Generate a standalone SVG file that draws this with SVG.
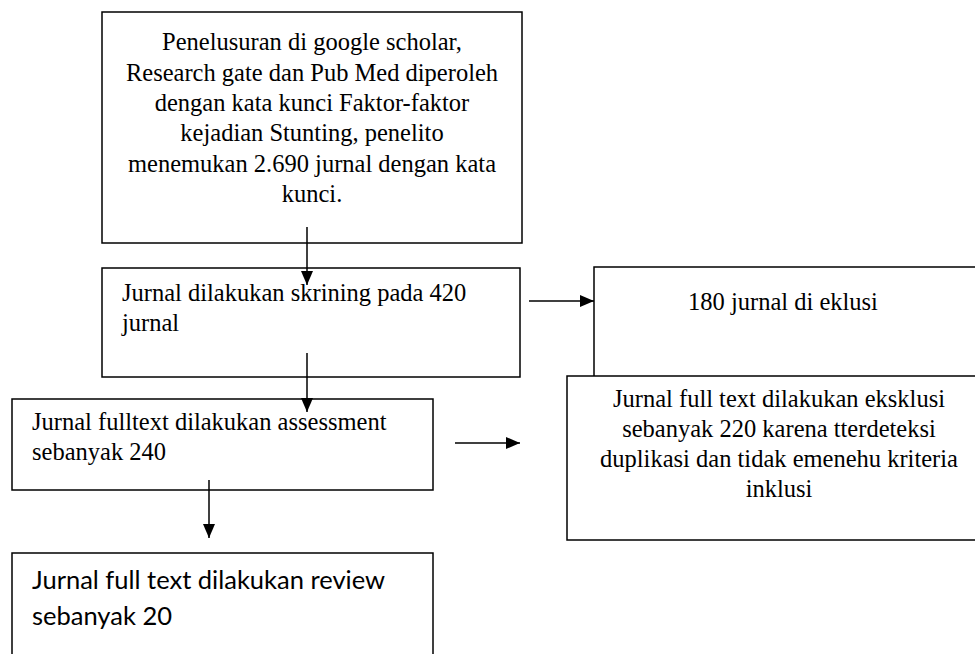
<svg xmlns="http://www.w3.org/2000/svg" width="975" height="654" viewBox="0 0 975 654">
<defs>
<style>
.box{fill:#fff;stroke:#000;stroke-width:1.5}
.t{font-family:"Liberation Serif","Times New Roman",serif;font-size:24.5px;fill:#000}
.c{text-anchor:middle}
.s{font-family:Lato,"Liberation Sans",sans-serif;font-size:25.5px;fill:#000}
.ln{stroke:#000;stroke-width:1.5;fill:none}
</style>
<marker id="ah" viewBox="0 0 14 12" refX="14" refY="6" markerWidth="14" markerHeight="12" markerUnits="userSpaceOnUse" orient="auto">
<path d="M0,0 L14,6 L0,12 z" fill="#000"/>
</marker>
</defs>
<rect width="975" height="654" fill="#fff"/>
<g id="n1">
<rect class="box" x="102" y="12" width="420" height="231"/>
<text class="t c" x="312" y="50">Penelusuran di google scholar,</text>
<text class="t c" x="312" y="81">Research gate dan Pub Med diperoleh</text>
<text class="t c" x="312" y="111">dengan kata kunci Faktor-faktor</text>
<text class="t c" x="312" y="141">kejadian Stunting, penelito</text>
<text class="t c" x="312" y="172">menemukan 2.690 jurnal dengan kata</text>
<text class="t c" x="312" y="202">kunci.</text>
</g>
<g id="n2">
<rect class="box" x="102" y="268" width="418" height="109"/>
<text class="t" x="122" y="301">Jurnal dilakukan skrining pada 420</text>
<text class="t" x="122" y="331">jurnal</text>
</g>
<g id="n3">
<rect class="box" x="12" y="399" width="421" height="91"/>
<text class="t" x="32" y="430">Jurnal fulltext dilakukan assessment</text>
<text class="t" x="32" y="460">sebanyak 240</text>
</g>
<g id="n4">
<rect class="box" x="12" y="553" width="421" height="120"/>
<text class="s" x="32" y="589">Jurnal full text dilakukan review</text>
<text class="s" x="32" y="625">sebanyak 20</text>
</g>
<g id="n5">
<rect class="box" x="594" y="267" width="400" height="140"/>
<text class="t c" x="783" y="310">180 jurnal di eklusi</text>
</g>
<g id="n6">
<rect class="box" x="567" y="376" width="430" height="164"/>
<text class="t c" x="779" y="407">Jurnal full text dilakukan eksklusi</text>
<text class="t c" x="779" y="437">sebanyak 220 karena tterdeteksi</text>
<text class="t c" x="779" y="467">duplikasi dan tidak emenehu kriteria</text>
<text class="t c" x="779" y="497">inklusi</text>
</g>
<g id="connectors">
<line class="ln" x1="307" y1="227" x2="307" y2="285" marker-end="url(#ah)"/>
<line class="ln" x1="307" y1="353" x2="307" y2="412" marker-end="url(#ah)"/>
<line class="ln" x1="209" y1="480" x2="209" y2="538" marker-end="url(#ah)"/>
<line class="ln" x1="529" y1="301" x2="594" y2="301" marker-end="url(#ah)"/>
<line class="ln" x1="455" y1="443" x2="520" y2="443" marker-end="url(#ah)"/>
</g>
</svg>
